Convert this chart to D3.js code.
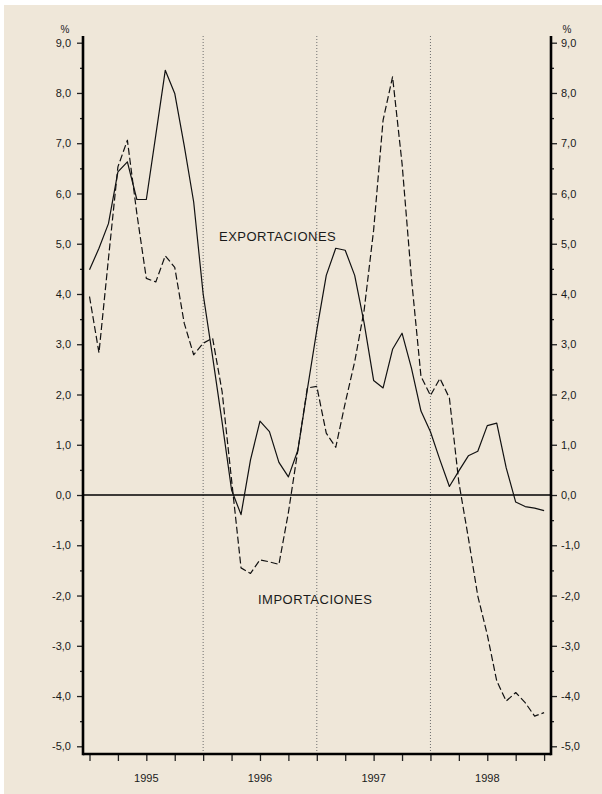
<!DOCTYPE html>
<html>
<head>
<meta charset="utf-8">
<script src="https://cdn.jsdelivr.net/npm/d3@7"></script>
<style>
  html, body { margin: 0; padding: 0; background: #ffffff; }
  svg { display: block; }
  text { font-family: "Liberation Sans", Arial, Helvetica, sans-serif; fill: #1a1a1a; }
</style>
</head>
<body>
<svg id="chart" width="602" height="794"></svg>
<script>
// ---- Data (monthly, Jan 1995 – Jan 1999) ----
const months = d3.range(49).map(i => {
  const y = 1995 + Math.floor(i / 12), m = (i % 12) + 1;
  return y + "-" + String(m).padStart(2, "0");
});
const exportaciones = [
  4.48, 4.91, 5.40, 6.43, 6.63, 5.88, 5.88, 7.16, 8.45, 7.99, 6.95, 5.83,
  4.00, 2.75, 1.45, 0.10, -0.39, 0.70, 1.47, 1.26, 0.65, 0.36, 0.89, 2.10,
  3.28, 4.37, 4.91, 4.87, 4.37, 3.42, 2.28, 2.13, 2.90, 3.22, 2.52, 1.67,
  1.26, 0.70, 0.17, 0.48, 0.78, 0.87, 1.38, 1.43, 0.54, -0.14, -0.23, -0.26,
  -0.31
];
const importaciones = [
  3.95, 2.83, 4.70, 6.53, 7.06, 5.60, 4.31, 4.24, 4.76, 4.53, 3.42, 2.79,
  3.02, 3.12, 2.06, 0.30, -1.45, -1.56, -1.29, -1.33, -1.38, -0.35, 0.89, 2.13,
  2.16, 1.23, 0.95, 1.83, 2.65, 3.68, 5.27, 7.46, 8.32, 6.60, 4.30, 2.36,
  1.98, 2.32, 1.93, 0.25, -0.85, -2.01, -2.78, -3.70, -4.10, -3.93, -4.13, -4.40,
  -4.33
];
const yearLabels = ["1995", "1996", "1997", "1998"];
const yTickValues = d3.range(-5, 9.01, 0.5);
const seriesLabels = ["EXPORTACIONES", "IMPORTACIONES"];

// ---- Layout ----
const svg = d3.select("#chart");
const W = 602, H = 794;
const plotLeft = 83, plotRight = 551, plotTop = 36, plotBottom = 754;

svg.append("rect").attr("x", 4).attr("y", 5).attr("width", W - 4).attr("height", H - 5)
  .attr("fill", "#EFE7D9");

const x = d3.scaleLinear().domain([0, months.length - 1]).range([89.5, 544.1]);
const y = d3.scaleLinear().domain([-5, 9]).range([746.3, 42.7]);

const fmt = v => Number.isInteger(v) ? v.toFixed(1).replace(".", ",") : "";

// Vertical dotted year separators
const sepIdx = [12, 24, 36];
svg.append("g").selectAll("line").data(sepIdx).join("line")
  .attr("x1", d => x(d)).attr("x2", d => x(d))
  .attr("y1", plotTop).attr("y2", plotBottom)
  .attr("stroke", "#6e6e6e").attr("stroke-width", 1)
  .attr("stroke-dasharray", "1,2");

// Zero line
svg.append("line")
  .attr("x1", plotLeft).attr("x2", plotRight)
  .attr("y1", y(0)).attr("y2", y(0))
  .attr("stroke", "#000").attr("stroke-width", 1.3);

// Left axis
const leftAxis = d3.axisLeft(y).tickValues(yTickValues).tickFormat(fmt).tickSizeOuter(0).tickPadding(4);
const gL = svg.append("g").attr("transform", `translate(${plotLeft},0)`).call(leftAxis);
gL.select(".domain").remove();
gL.selectAll(".tick line").attr("x2", d => Number.isInteger(d) ? -6 : -3)
  .attr("stroke", "#222").attr("stroke-width", 1.3);
gL.selectAll(".tick text").attr("x", -12).attr("font-size", 11)
  .style("font-family", '"Liberation Sans", Arial, sans-serif').attr("fill", "#1a1a1a");

// Right axis
const rightAxis = d3.axisRight(y).tickValues(yTickValues).tickFormat(fmt).tickSizeOuter(0).tickPadding(4);
const gR = svg.append("g").attr("transform", `translate(${plotRight},0)`).call(rightAxis);
gR.select(".domain").remove();
gR.selectAll(".tick line").attr("x2", d => Number.isInteger(d) ? 6 : 3)
  .attr("stroke", "#222").attr("stroke-width", 1.3);
gR.selectAll(".tick text").attr("x", 10).attr("font-size", 11)
  .style("font-family", '"Liberation Sans", Arial, sans-serif').attr("fill", "#1a1a1a");

// Bottom axis (quarterly ticks)
const bottomAxis = d3.axisBottom(x).tickValues(d3.range(0, 49, 3)).tickFormat("").tickSize(7).tickSizeOuter(0);
const gB = svg.append("g").attr("transform", `translate(0,${plotBottom})`).call(bottomAxis);
gB.select(".domain").remove();
gB.selectAll(".tick line").attr("stroke", "#222").attr("stroke-width", 1.3);

// Year labels (centred on mid-year ticks)
svg.append("g").selectAll("text").data(yearLabels).join("text")
  .attr("x", (d, i) => x(6 + 12 * i)).attr("y", 782)
  .attr("text-anchor", "middle").attr("font-size", 11).text(d => d);

// Axis frame lines
svg.append("line").attr("x1", plotLeft).attr("x2", plotLeft).attr("y1", plotTop).attr("y2", plotBottom + 1.2)
  .attr("stroke", "#000").attr("stroke-width", 2.6);
svg.append("line").attr("x1", plotRight).attr("x2", plotRight).attr("y1", plotTop).attr("y2", plotBottom + 1.2)
  .attr("stroke", "#000").attr("stroke-width", 2.6);
svg.append("line").attr("x1", plotLeft).attr("x2", plotRight).attr("y1", plotBottom).attr("y2", plotBottom)
  .attr("stroke", "#000").attr("stroke-width", 2.6);

// "%" unit labels
svg.append("text").attr("x", 65).attr("y", 33).attr("text-anchor", "middle").attr("font-size", 10).text("%");
svg.append("text").attr("x", 567).attr("y", 33).attr("text-anchor", "middle").attr("font-size", 10).text("%");

// Lines
const line = d3.line().x((d, i) => x(i)).y(d => y(d));
svg.append("path").datum(importaciones).attr("d", line)
  .attr("fill", "none").attr("stroke", "#111").attr("stroke-width", 1.2)
  .attr("stroke-dasharray", "7,3").attr("stroke-linejoin", "round");
svg.append("path").datum(exportaciones).attr("d", line)
  .attr("fill", "none").attr("stroke", "#111").attr("stroke-width", 1.2)
  .attr("stroke-linejoin", "round");

// Series labels
svg.append("text").attr("x", 219).attr("y", 241).attr("font-size", 13)
  .attr("letter-spacing", 0.5).text(seriesLabels[0]);
svg.append("text").attr("x", 258).attr("y", 603.5).attr("font-size", 13)
  .attr("letter-spacing", 0.5).text(seriesLabels[1]);
</script>
</body>
</html>
